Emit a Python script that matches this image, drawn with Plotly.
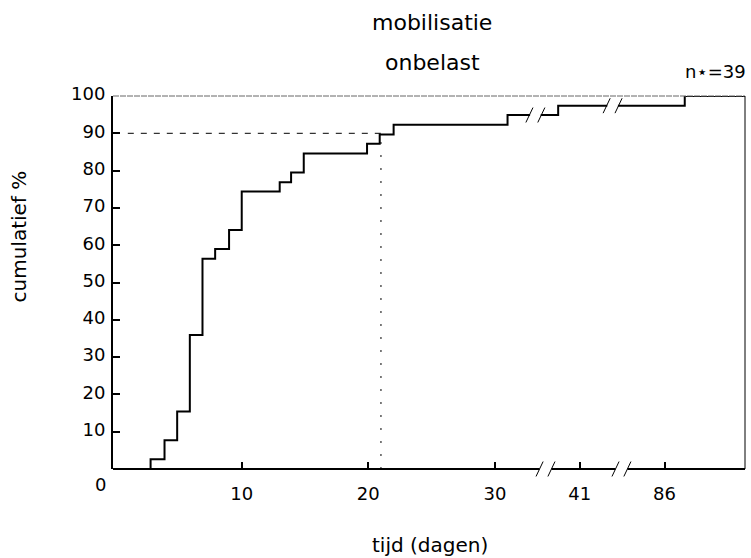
import plotly.graph_objects as go

# ---- data (x on the broken-axis display scale) ----
step_x = [0, 2.8, 3.9, 4.9, 5.9, 6.9, 7.9, 9.0, 10.0, 13.0, 13.9, 14.9, 19.9, 20.9, 22.0, 31.0, 35.0, 45.0, 49.8]
step_y = [0, 2.6, 7.7, 15.4, 35.9, 56.4, 59.0, 64.1, 74.4, 76.9, 79.5, 84.6, 87.2, 89.7, 92.3, 94.9, 97.4, 100, 100]
x_tick_pos = [10, 20, 30, 36.7, 43.4]
x_tick_labels = ["10", "20", "30", "41", "86"]
y_ticks = [0, 10, 20, 30, 40, 50, 60, 70, 80, 90, 100]
ref_pct = 90
ref_day = 21
curve_breaks = [(33.2, 94.9), (39.3, 97.4)]
axis_breaks = [34.0, 40.0]

X_RANGE = [-0.17, 49.76]
FONT = "DejaVu Sans"

fig = go.Figure()

# reference lines at 90%
fig.add_trace(go.Scatter(x=[1.0, ref_day], y=[ref_pct, ref_pct], mode="lines",
                         line=dict(color="black", width=1, dash="6px,7px"),
                         hoverinfo="skip", showlegend=False))
fig.add_trace(go.Scatter(x=[ref_day, ref_day], y=[0, ref_pct], mode="lines",
                         line=dict(color="black", width=1, dash="2px,11px"),
                         hoverinfo="skip", showlegend=False))

# cumulative step curve
fig.add_trace(go.Scatter(x=step_x, y=step_y, mode="lines", line_shape="hv",
                         line=dict(color="black", width=2), showlegend=False))

shapes = []
# frame: thin top and right
shapes.append(dict(type="line", xref="paper", yref="paper", x0=0, x1=1, y0=1, y1=1,
                   line=dict(color="#666", width=1, dash="6px,1px")))
shapes.append(dict(type="line", xref="paper", yref="paper", x0=1, x1=1, y0=0, y1=1,
                   line=dict(color="black", width=1)))

# bottom axis line drawn in segments (gaps at the breaks)
gap = 0.47
seg_edges = [X_RANGE[0]] + [v for b in axis_breaks for v in (b - gap, b + gap)] + [X_RANGE[1]]
for i in range(0, len(seg_edges), 2):
    shapes.append(dict(type="line", xref="x", yref="paper", x0=seg_edges[i], x1=seg_edges[i + 1],
                       y0=0, y1=0, line=dict(color="black", width=2)))
# axis break slashes
for b in axis_breaks:
    for off in (-gap, gap):
        shapes.append(dict(type="line", xref="x", yref="paper",
                           x0=b + off - 0.28, x1=b + off + 0.28, y0=-0.02, y1=0.02,
                           line=dict(color="black", width=1)))
# curve break: white gap + slashes
for (bx, by) in curve_breaks:
    shapes.append(dict(type="rect", xref="x", yref="y", x0=bx - gap + 0.05, x1=bx + gap - 0.05,
                       y0=by - 1.2, y1=by + 1.2, fillcolor="white", line=dict(width=0),
                       layer="above"))
    for off in (-gap, gap):
        shapes.append(dict(type="line", xref="x", yref="y",
                           x0=bx + off - 0.28, x1=bx + off + 0.28, y0=by - 2.0, y1=by + 2.0,
                           line=dict(color="black", width=1)))


def note(text, x, y, size, xanchor="center", angle=0):
    return dict(text=text, x=x, y=y, xref="paper", yref="paper", showarrow=False,
                xanchor=xanchor, yanchor="middle", textangle=angle,
                font=dict(size=size, family=FONT, color="black"))


annotations = [
    note("mobilisatie", 0.505, 1.198, 22),
    note("onbelast", 0.505, 1.090, 22),
    note("n\u22c6=39", 1.005, 1.067, 18, xanchor="right"),
    note("tijd (dagen)", 0.502, -0.204, 20),
    note("cumulatief %", -0.1495, 0.622, 20, angle=-90),
    note("0", -0.019, -0.042, 18),
]

fig.update_layout(
    width=751, height=558,
    margin=dict(l=113, r=6, t=96, b=89),
    paper_bgcolor="white", plot_bgcolor="white",
    font=dict(family=FONT, size=18, color="black"),
    shapes=shapes, annotations=annotations,
    xaxis=dict(range=X_RANGE, showgrid=False, zeroline=False, showline=False,
               tickmode="array", tickvals=x_tick_pos, ticktext=x_tick_labels,
               ticks="inside", ticklen=7, tickwidth=1.5, tickcolor="black",
               ticklabelstandoff=12,
               tickfont=dict(size=18, family=FONT)),
    yaxis=dict(range=[0, 100], showgrid=False, zeroline=False, showline=True,
               linecolor="black", linewidth=2,
               tickmode="array", tickvals=y_ticks,
               ticktext=[("" if v == 0 else str(v)) for v in y_ticks],
               ticks="inside", ticklen=7, tickwidth=1.5, tickcolor="black",
               ticklabelstandoff=2, ticklabelshift=-2,
               tickfont=dict(size=18, family=FONT)),
)

fig.write_html("out.html", config={"displayModeBar": False},
               post_script="document.body.style.margin='0';")
